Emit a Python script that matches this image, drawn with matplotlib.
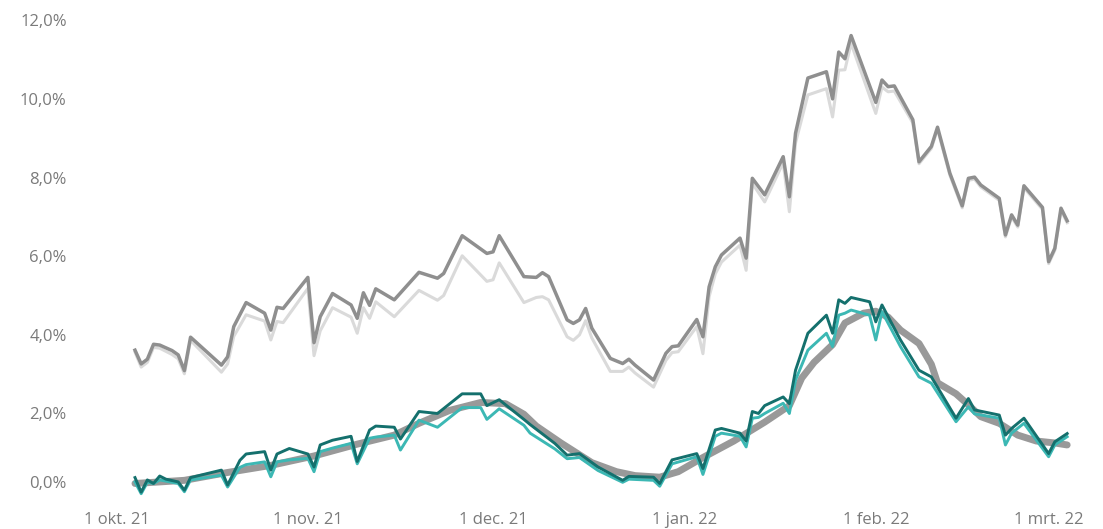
import matplotlib
matplotlib.use("Agg")
import matplotlib.pyplot as plt
import matplotlib.dates as mdates
import pandas as pd
from matplotlib.ticker import FuncFormatter, FixedLocator

# upper pair of lines (share the same dates)
upper_dates = [
    "2021-10-04", "2021-10-05", "2021-10-06", "2021-10-07", "2021-10-08", "2021-10-10",
    "2021-10-11", "2021-10-12", "2021-10-13", "2021-10-18", "2021-10-19", "2021-10-20",
    "2021-10-22", "2021-10-25", "2021-10-26", "2021-10-27", "2021-10-28",
    "2021-11-01", "2021-11-02", "2021-11-03", "2021-11-05", "2021-11-08", "2021-11-09",
    "2021-11-10", "2021-11-11", "2021-11-12", "2021-11-15", "2021-11-19", "2021-11-22",
    "2021-11-23", "2021-11-26", "2021-11-30",
    "2021-12-01", "2021-12-02", "2021-12-06", "2021-12-08", "2021-12-09", "2021-12-10",
    "2021-12-13", "2021-12-14", "2021-12-15", "2021-12-16", "2021-12-17", "2021-12-20",
    "2021-12-22", "2021-12-23", "2021-12-24", "2021-12-27", "2021-12-29", "2021-12-30",
    "2021-12-31",
    "2022-01-03", "2022-01-04", "2022-01-05", "2022-01-06", "2022-01-07", "2022-01-10",
    "2022-01-11", "2022-01-12", "2022-01-14", "2022-01-17", "2022-01-18", "2022-01-19",
    "2022-01-21", "2022-01-24", "2022-01-25", "2022-01-26", "2022-01-27", "2022-01-28",
    "2022-02-01", "2022-02-02", "2022-02-03", "2022-02-04", "2022-02-07", "2022-02-08",
    "2022-02-10", "2022-02-11", "2022-02-13", "2022-02-15", "2022-02-16", "2022-02-17",
    "2022-02-18", "2022-02-21", "2022-02-22", "2022-02-23", "2022-02-24", "2022-02-25",
    "2022-02-28",
    "2022-03-01", "2022-03-02", "2022-03-03", "2022-03-04",
]
upper_dark = [
    3.61, 3.26, 3.38, 3.76, 3.74, 3.60, 3.49, 3.09, 3.94, 3.23, 3.44, 4.21, 4.82, 4.55, 4.12, 4.70, 4.67,
    5.46, 3.80, 4.46, 5.05, 4.76, 4.42, 5.07, 4.75, 5.17, 4.89, 5.59, 5.44, 5.56, 6.52, 6.07,
    6.11, 6.52, 5.48, 5.46, 5.58, 5.48, 4.38, 4.29, 4.38, 4.67, 4.17, 3.40, 3.27, 3.38, 3.23, 2.85, 3.53, 3.70, 3.72,
    4.39, 3.95, 5.22, 5.73, 6.03, 6.46, 5.95, 7.98, 7.56, 8.53, 7.51, 9.13, 10.53, 10.69, 10.00, 11.19, 11.02, 11.61,
    9.91, 10.48, 10.31, 10.33, 9.47, 8.40, 8.79, 9.28, 8.11, 7.28, 7.98, 8.01, 7.81, 7.47, 6.54, 7.05, 6.79, 7.79, 7.24,
    5.86, 6.20, 7.22, 6.90,
]
upper_light = [
    3.56, 3.18, 3.30, 3.68, 3.66, 3.50, 3.39, 3.01, 3.86, 3.05, 3.26, 3.96, 4.51, 4.35, 3.87, 4.34, 4.31,
    5.18, 3.47, 4.10, 4.69, 4.45, 4.04, 4.69, 4.42, 4.84, 4.46, 5.13, 4.88, 5.00, 6.01, 5.36,
    5.40, 5.83, 4.82, 4.95, 4.97, 4.89, 3.95, 3.86, 4.00, 4.36, 3.92, 3.07, 3.07, 3.18, 3.03, 2.67, 3.35, 3.55, 3.57,
    4.21, 3.52, 4.97, 5.55, 5.85, 6.28, 5.64, 7.85, 7.38, 8.38, 7.13, 8.88, 10.10, 10.26, 9.54, 10.73, 10.74, 11.41,
    9.63, 10.30, 10.18, 10.20, 9.39, 8.35, 8.74, 9.23, 8.06, 7.23, 7.93, 7.96, 7.76, 7.42, 6.49, 7.00, 6.74, 7.74, 7.19,
    5.81, 6.15, 7.17, 6.85,
]

# smooth grey trend line at the bottom
trend_dates = [
    "2021-10-04", "2021-10-12", "2021-10-19", "2021-10-26", "2021-11-02", "2021-11-09",
    "2021-11-15", "2021-11-19", "2021-11-24", "2021-11-29", "2021-12-03", "2021-12-06",
    "2021-12-08", "2021-12-12", "2021-12-17", "2021-12-21", "2021-12-24", "2021-12-28",
    "2021-12-31", "2022-01-04", "2022-01-09", "2022-01-14", "2022-01-18", "2022-01-20",
    "2022-01-22", "2022-01-25", "2022-01-27", "2022-01-30", "2022-02-01", "2022-02-03",
    "2022-02-05", "2022-02-08", "2022-02-10", "2022-02-11", "2022-02-14", "2022-02-16",
    "2022-02-18", "2022-02-21", "2022-02-24", "2022-02-27", "2022-03-02", "2022-03-04",
]
trend_values = [
    0.22, 0.30, 0.50, 0.68, 0.92, 1.22, 1.45, 1.75, 2.08, 2.28, 2.25, 1.98,
    1.68, 1.25, 0.75, 0.52, 0.42, 0.38, 0.52, 0.88, 1.30, 1.78, 2.20, 2.90,
    3.30, 3.75, 4.30, 4.55, 4.60, 4.45, 4.12, 3.78, 3.25, 2.78, 2.50, 2.22,
    1.92, 1.75, 1.45, 1.30, 1.25, 1.20,
]

# two teal lines at the bottom (share the same dates)
lower_dates = [
    "2021-10-04", "2021-10-05", "2021-10-06", "2021-10-07", "2021-10-08", "2021-10-09",
    "2021-10-11", "2021-10-12", "2021-10-13", "2021-10-18", "2021-10-19", "2021-10-21",
    "2021-10-22", "2021-10-25", "2021-10-26", "2021-10-27", "2021-10-29",
    "2021-11-01", "2021-11-02", "2021-11-03", "2021-11-05", "2021-11-08", "2021-11-09",
    "2021-11-11", "2021-11-12", "2021-11-15", "2021-11-16", "2021-11-19", "2021-11-22",
    "2021-11-26", "2021-11-29", "2021-11-30",
    "2021-12-02", "2021-12-06", "2021-12-07", "2021-12-11", "2021-12-13", "2021-12-15",
    "2021-12-18", "2021-12-22", "2021-12-23", "2021-12-27", "2021-12-28", "2021-12-30",
    "2022-01-03", "2022-01-04", "2022-01-06", "2022-01-07", "2022-01-10", "2022-01-11",
    "2022-01-12", "2022-01-13", "2022-01-14", "2022-01-17", "2022-01-18", "2022-01-19",
    "2022-01-21", "2022-01-24", "2022-01-25", "2022-01-26", "2022-01-27", "2022-01-28",
    "2022-01-31", "2022-02-01", "2022-02-02", "2022-02-05", "2022-02-08", "2022-02-10",
    "2022-02-14", "2022-02-16", "2022-02-17", "2022-02-21", "2022-02-22", "2022-02-23",
    "2022-02-25", "2022-03-01", "2022-03-02", "2022-03-04",
]
lower_dark_teal = [
    0.37, 0.00, 0.31, 0.22, 0.41, 0.33, 0.26, 0.05, 0.37, 0.56, 0.18, 0.81, 0.97, 1.03, 0.56, 0.97, 1.11,
    0.97, 0.64, 1.20, 1.32, 1.42, 0.78, 1.58, 1.68, 1.65, 1.35, 2.05, 2.00, 2.50, 2.50, 2.20,
    2.35, 1.85, 1.72, 1.24, 0.94, 0.98, 0.64, 0.30, 0.40, 0.38, 0.22, 0.82,
    0.98, 0.60, 1.58, 1.62, 1.50, 1.30, 2.05, 2.00, 2.20, 2.42, 2.25, 3.10,
    4.04, 4.50, 4.04, 4.89, 4.80, 4.95, 4.84, 4.33, 4.76, 3.87, 3.10, 2.93,
    1.88, 2.38, 2.09, 1.96, 1.45, 1.62, 1.88, 0.98, 1.28, 1.49,
]
lower_teal = [
    0.26, -0.04, 0.25, 0.22, 0.31, 0.28, 0.22, 0.01, 0.31, 0.43, 0.13, 0.63, 0.70, 0.77, 0.39, 0.77, 0.82,
    0.86, 0.52, 1.03, 1.12, 1.24, 0.72, 1.37, 1.40, 1.45, 1.07, 1.83, 1.65, 2.15, 2.15, 1.85,
    2.12, 1.70, 1.50, 1.10, 0.85, 0.88, 0.55, 0.25, 0.33, 0.30, 0.15, 0.72,
    0.90, 0.45, 1.42, 1.50, 1.42, 1.15, 1.88, 1.90, 2.00, 2.26, 2.00, 2.85,
    3.61, 4.04, 3.70, 4.50, 4.55, 4.63, 4.50, 3.87, 4.59, 3.70, 2.93, 2.77,
    1.79, 2.17, 1.99, 1.88, 1.20, 1.50, 1.75, 0.90, 1.20, 1.41,
]

tick_dates = ["2021-10-01", "2021-11-01", "2021-12-01", "2022-01-01", "2022-02-01", "2022-03-01"]
tick_labels = ["1 okt. 21", "1 nov. 21", "1 dec. 21", "1 jan. 22", "1 feb. 22", "1 mrt. 22"]
y_ticks = [0, 2, 4, 6, 8, 10, 12]

text_color = "#7a7a7a"
plt.rcParams["font.family"] = ["Open Sans", "DejaVu Sans"]

fig = plt.figure(figsize=(11.03, 5.29), dpi=100)
ax = fig.add_axes([100 / 1103, 29 / 529, 990 / 1103, 490 / 529])

ud = pd.to_datetime(upper_dates)
ld = pd.to_datetime(lower_dates)
td = pd.to_datetime(trend_dates)

ax.plot(ud, upper_light, color="#dadada", lw=2.2, solid_joinstyle="round", zorder=2)
ax.plot(ud, upper_dark, color="#8f8f8f", lw=2.5, solid_joinstyle="round", zorder=3)
ax.plot(td, trend_values, color="#999999", lw=5, solid_capstyle="round", zorder=2)
ax.plot(ld, lower_teal, color="#3cb8b4", lw=2.1, solid_joinstyle="round", zorder=3)
ax.plot(ld, lower_dark_teal, color="#14706d", lw=2.1, solid_joinstyle="round", zorder=4)

origin = mdates.date2num(pd.Timestamp("2021-10-01"))
ax.set_xlim(origin - 2.67, origin + 157.7)
ax.set_ylim(-0.2, 12.26)

ax.xaxis.set_major_locator(FixedLocator(mdates.date2num(pd.to_datetime(tick_dates))))
ax.set_xticklabels(tick_labels)
ax.yaxis.set_major_locator(FixedLocator(y_ticks))
ax.yaxis.set_major_formatter(FuncFormatter(lambda v, p: f"{v:.1f}".replace(".", ",") + "%"))

ax.tick_params(axis="both", length=0, labelsize=12, labelcolor=text_color)
ax.tick_params(axis="y", pad=24)
ax.tick_params(axis="x", pad=9)
for s in ax.spines.values():
    s.set_visible(False)

labels = ax.get_yticklabels()
labels[0].set_verticalalignment("bottom")

fig.savefig("out.png", dpi=100, facecolor="white")
